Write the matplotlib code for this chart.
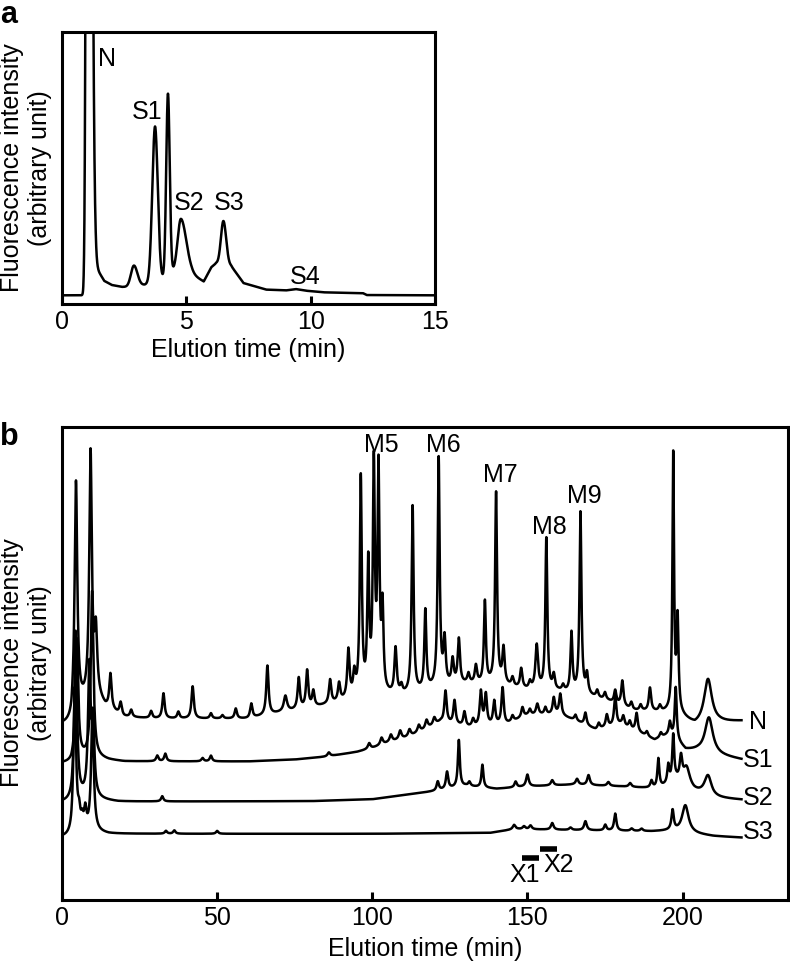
import numpy as np
import matplotlib
matplotlib.use("Agg")
import matplotlib.pyplot as plt

plt.rcParams["font.family"] = ["Liberation Sans", "DejaVu Sans"]
FS = 18
LW = 1.8

# ---------------- panel a : 0-15 min ----------------
a_base_t = [0, 0.85, 1.35, 1.5, 1.7, 2.0, 2.4, 2.7, 3.1, 3.33, 4.0, 4.1, 4.4, 4.8, 5.2, 5.7,
            6.0, 6.2, 6.8, 7.3, 8.2, 9.0, 9.4, 9.8, 10.5, 12.1, 12.25, 15]
a_base_y = [3.2, 3.2, 14, 11.5, 8.5, 7.0, 6.3, 6.3, 6.8, 7.1, 9, 9.5, 12, 12, 11, 8.3,
            13.5, 15, 14, 7.7, 5.3, 5.0, 5.5, 4.9, 4.3, 4.0, 3.3, 3.2]
a_peak_t = [1.05, 2.89, 3.74, 4.26, 4.78, 6.49]
a_peak_h = [600, 7.6, 57, 66.5, 19.3, 16]
a_peak_sl = [0.06, 0.12, 0.11, 0.07, 0.13, 0.10]
a_peak_sr = [0.11, 0.14, 0.11, 0.07, 0.22, 0.11]
a_labels = ["N", "S1", "S2", "S3", "S4"]
a_label_t = [1.45, 2.8, 4.5, 6.1, 9.15]
a_label_y = [90, 70.6, 37.1, 37.1, 9.9]

# ---------------- panel b : 0-234 min, four stacked traces ----------------
n_base_t = [0, 3.0, 4.0, 6, 11.5, 14, 20, 30, 60, 70, 80, 88, 95, 105, 110, 120, 130, 140,
            150, 160, 170, 176, 184, 195, 200, 204, 212, 219]
n_base_y = [37.0, 37.0, 40, 41, 42.5, 40.5, 38.6, 38.3, 38.3, 39.5, 40.5, 41.5, 42.5, 43, 43,
            44.5, 45.5, 45.5, 44.3, 44, 43, 42, 40, 39.5, 38.5, 36.8, 37.5, 37.8]
n_peak_t = [4.5, 9.2, 10.9, 15.6, 18.9, 22.3, 28.7, 32.7, 37.5, 42.1, 48, 51.7, 56, 61, 66.2,
            72, 76.3, 79, 81, 86.4, 89.3, 92.3, 94.2, 96.3, 98.7, 100.5, 102, 103.3, 107.5,
            109.4, 113, 117.1, 121.4, 123.3, 125.9, 127.9, 131, 133.4, 136.3, 139.9, 142.3,
            145.2, 148, 150.8, 153, 156.1, 158.5, 161.5, 164.2, 167.1, 169.2, 172.5, 175,
            178.3, 180.6, 183.5, 186.5, 189.5, 192.7, 197, 198.4, 208.2]
n_peak_h = [47.8, 52, 13, 7.4, 2.6, 1.5, 1.5, 5.3, 1.4, 6.8, 1.1, 0.7, 2.1, 3.0, 10.4,
            3.3, 6.6, 7.9, 3.3, 5, 3.8, 10.2, 4.6, 46, 27, 47.5, 46.5, 17, 9.7,
            1.7, 39.5, 16.7, 48.3, 9.5, 5.2, 9.5, 2.0, 3.7, 17.3, 40.3, 7.5,
            1.8, 4.1, 1.5, 9.3, 32.1, 3.1, 1.2, 12.5, 38.4, 4.1, 1.5, 1.5,
            2.7, 5.3, 1.5, 1.2, 4.9, 1.2, 54.5, 19.6, 9.5]
n_peak_w = [0.4, 0.4, 0.4, 0.35, 0.35, 0.35, 0.35, 0.35, 0.35, 0.35, 0.35, 0.35, 0.35, 0.35,
            0.35, 0.5, 0.35, 0.35, 0.35, 0.35, 0.35, 0.35, 0.35, 0.3, 0.3, 0.3, 0.3, 0.3,
            0.35, 0.35, 0.3, 0.3, 0.3, 0.35, 0.35, 0.35, 0.35, 0.35, 0.3, 0.3, 0.35,
            0.35, 0.35, 0.35, 0.4, 0.3, 0.35, 0.35, 0.3, 0.3, 0.35, 0.35, 0.35,
            0.35, 0.35, 0.35, 0.35, 0.35, 0.35, 0.25, 0.3, 1.2]

s1_base_t = [0, 3, 4, 11, 15, 20, 60, 75, 85, 95, 100, 105, 112, 118, 122, 131, 143, 150, 160,
             165, 172, 180, 187, 191, 196, 201, 205, 212, 219]
s1_base_y = [28.9, 28.9, 30, 30.1, 29.6, 29.3, 29.3, 29.7, 30.3, 31.3, 32.1, 33.2, 34.5, 36.3,
             37.6, 36.5, 37, 39.0, 39.2, 38, 36, 37, 35, 33.8, 35, 31.7, 31.5, 30.5, 29.7]
s1_peak_t = [4.8, 9.7, 30.7, 33.3, 45.3, 48, 86, 99, 103, 106, 109, 112, 115, 117.5, 120,
             123.6, 126.5, 129.7, 132.5, 135, 136.6, 139.3, 142, 145.2, 148.4, 150.8, 153.2,
             155.8, 158.5, 160.6, 165.5, 168.7, 173, 175.6, 178.3, 180.9, 183, 185.2, 188.5,
             193, 195.9, 197.8, 208.5]
s1_peak_h = [25, 35, 1.2, 1.6, 0.7, 1.2, 0.8, 1.2, 1.5, 1.5, 1.8, 1.5, 1.5, 1.8, 1.5,
             6.7, 5, 3, 1.5, 7.2, 6.5, 5, 7.8, 1.2, 2.1, 1.2, 2.3,
             1.5, 3.5, 4.4, 1.2, 2.6, 1.2, 2.6, 6.2, 2, 1.5, 3.9, 1.0,
             1.0, 2.4, 11, 7.6]
s1_peak_w = [0.4, 0.4, 0.35, 0.35, 0.35, 0.35, 0.4, 0.4, 0.4, 0.4, 0.4, 0.4, 0.4, 0.4, 0.4,
             0.35, 0.35, 0.35, 0.35, 0.35, 0.35, 0.35, 0.35, 0.35, 0.35, 0.35, 0.4,
             0.35, 0.35, 0.35, 0.35, 0.35, 0.35, 0.35, 0.35, 0.35, 0.35, 0.35, 0.35,
             0.35, 0.3, 0.3, 1.2]

s2_base_t = [0, 3, 4, 11, 18, 80, 100, 110, 120, 130, 140, 150, 165, 180, 192, 198, 203.7,
             210, 219]
s2_base_y = [20.6, 20.6, 21.5, 21.2, 20.8, 20.9, 21.3, 22.2, 23, 24.1, 23.5, 24, 24.4, 24,
             23.5, 25, 22.9, 21.6, 21.2]
s2_peak_t = [4.4, 8.8, 10.0, 32.3, 121.1, 124.1, 127.9, 131.3, 135.5, 146.2, 150, 158, 166,
             169.7, 176.1, 183.1, 190, 192.2, 195.4, 197, 199.5, 201.3, 208.2]
s2_peak_h = [35, 27, 15, 1.1, 1.9, 3.6, 9.9, 0.9, 4.8, 1.2, 2.5, 1.1, 1.2,
             2.1, 0.8, 0.8, 1.5, 6.2, 3.8, 9.7, 5, 4, 4.3]
s2_peak_w = [0.4, 0.4, 0.4, 0.35, 0.35, 0.35, 0.3, 0.35, 0.3, 0.35, 0.4, 0.4, 0.4,
             0.4, 0.4, 0.4, 0.35, 0.3, 0.3, 0.3, 0.4, 1.0, 1.1]

s3_base_t = [0, 3, 4, 11, 15, 100, 138, 146, 190, 196, 203.5, 210, 219]
s3_base_y = [13.2, 13.2, 14.5, 14.3, 14, 14, 14.2, 15, 14.5, 14.6, 14, 13.5, 13.2]
s3_peak_t = [4.1, 5.5, 6.5, 7.5, 9.8, 33.5, 36.2, 50, 145.7, 148.9, 151, 158, 163.9, 168.7,
             175.1, 178.3, 183.6, 186.8, 196.8, 200.9]
s3_peak_h = [30, 3, 2, 4, 25, 0.6, 0.7, 0.6, 0.9, 0.6, 0.8, 1.4, 0.5, 1.9,
             1.2, 3.6, 0.5, 0.5, 4.2, 5.8]
s3_peak_w = [0.4, 0.35, 0.35, 0.35, 0.4, 0.35, 0.35, 0.35, 0.4, 0.4, 0.4, 0.4, 0.4, 0.4,
             0.35, 0.35, 0.4, 0.4, 0.35, 1.0]

trace_names = ["N", "S1", "S2", "S3"]
trace_label_t = [221.3, 219.4, 219.4, 219.4]
trace_label_y = [37.6, 29.7, 21.6, 14.4]

m_labels = ["M5", "M6", "M7", "M8", "M9"]
m_label_t = [103, 122.9, 141.3, 157, 168.3]
m_label_y = [96.2, 96.2, 89.9, 78.8, 85.5]

x_labels = ["X1", "X2"]
x_label_t = [149.2, 160]
x_label_y = [5.2, 7.4]
x_bar_start = [148.4, 154.1]
x_bar_end = [153.8, 159.6]
x_bar_y = [8.9, 10.7]

PEAK_WIDEN = 1.25


def asym_gauss(t, centers, heights, sl, sr):
    y = np.zeros_like(t)
    for c, h, l, r in zip(centers, heights, sl, sr):
        s = np.where(t < c, l, r)
        y += h * np.exp(-0.5 * ((t - c) / s) ** 2)
    return y


def lorentz(t, centers, heights, widths):
    y = np.zeros_like(t)
    for c, h, w in zip(centers, heights, widths):
        w = w * PEAK_WIDEN
        y += h / (1 + ((t - c) / w) ** 2)
    return y


def style_axes(ax):
    for sp in ax.spines.values():
        sp.set_linewidth(2.2)
    ax.set_yticks([])
    ax.tick_params(axis="x", direction="in", length=6, width=2.2, labelsize=FS, pad=4)


fig = plt.figure(figsize=(7.9, 9.63), dpi=100)

# panel a
ax_a = fig.add_axes([0.0785, 0.6843, 0.4722, 0.2825])
ta = np.linspace(0, 15, 3000)
ya = np.interp(ta, a_base_t, a_base_y) + asym_gauss(ta, a_peak_t, a_peak_h, a_peak_sl, a_peak_sr)
ax_a.plot(ta, ya, color="black", lw=LW)
ax_a.set_xlim(0, 15)
ax_a.set_ylim(0, 100)
ax_a.set_xticks([0, 5, 10, 15])
style_axes(ax_a)
ax_a.set_xlabel("Elution time (min)", fontsize=FS, labelpad=3)
for lab, x, y in zip(a_labels, a_label_t, a_label_y):
    ax_a.text(x, y, lab, fontsize=FS, ha="left", va="center")

# panel b
ax_b = fig.add_axes([0.0785, 0.0654, 0.919, 0.4912])
tb = np.linspace(0, 219, 8000)
traces = [
    (n_base_t, n_base_y, n_peak_t, n_peak_h, n_peak_w),
    (s1_base_t, s1_base_y, s1_peak_t, s1_peak_h, s1_peak_w),
    (s2_base_t, s2_base_y, s2_peak_t, s2_peak_h, s2_peak_w),
    (s3_base_t, s3_base_y, s3_peak_t, s3_peak_h, s3_peak_w),
]
for bt, by, pt, ph, pw in traces:
    yb = np.interp(tb, bt, by) + lorentz(tb, pt, ph, pw)
    ax_b.plot(tb, yb, color="black", lw=LW)
ax_b.set_xlim(0, 234)
ax_b.set_ylim(0, 100)
ax_b.set_xticks([0, 50, 100, 150, 200])
style_axes(ax_b)
ax_b.set_xlabel("Elution time (min)", fontsize=FS, labelpad=5)

for lab, x, y in zip(trace_names, trace_label_t, trace_label_y):
    ax_b.text(x, y, lab, fontsize=FS, ha="left", va="center")
for lab, x, y in zip(m_labels, m_label_t, m_label_y):
    ax_b.text(x, y, lab, fontsize=FS, ha="center", va="center")
for lab, x, y in zip(x_labels, x_label_t, x_label_y):
    ax_b.text(x, y, lab, fontsize=FS, ha="center", va="center")
for x0, x1, y in zip(x_bar_start, x_bar_end, x_bar_y):
    ax_b.plot([x0, x1], [y, y], color="black", lw=4, solid_capstyle="butt")

# y labels and panel letters
ylab = "Fluorescence intensity\n(arbitrary unit)"
fig.text(0.033, 0.8255, ylab, rotation=90, ha="center", va="center",
         fontsize=FS, linespacing=1.25, multialignment="center")
fig.text(0.033, 0.3115, ylab, rotation=90, ha="center", va="center",
         fontsize=FS, linespacing=1.25, multialignment="center")
fig.text(0.0, 1.0, "a", fontsize=22, fontweight="bold", ha="left", va="top")
fig.text(0.0, 0.562, "b", fontsize=22, fontweight="bold", ha="left", va="top")

fig.savefig("out.png", dpi=100)
